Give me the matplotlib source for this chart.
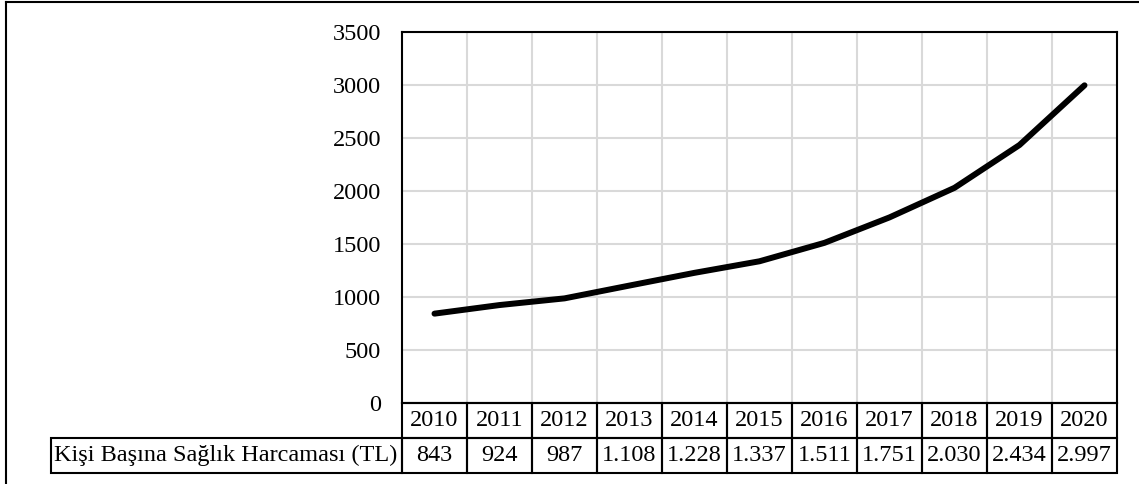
import matplotlib.pyplot as plt
from matplotlib.lines import Line2D
from matplotlib.patches import Rectangle

years = [2010, 2011, 2012, 2013, 2014, 2015, 2016, 2017, 2018, 2019, 2020]
spending = [843, 924, 987, 1108, 1228, 1337, 1511, 1751, 2030, 2434, 2997]
row_label = 'Kişi Başına Sağlık Harcaması (TL)'
y_ticks = [0, 500, 1000, 1500, 2000, 2500, 3000, 3500]

plt.rcParams['font.family'] = ['Liberation Serif', 'DejaVu Serif']
FS = 17.5

W, H = 1139, 484
fig = plt.figure(figsize=(W / 100, H / 100), dpi=100)

# plot area in pixels
left, right, top, bottom = 402, 1117, 32, 403
ax = fig.add_axes([left / W, 1 - bottom / H, (right - left) / W, (bottom - top) / H])
x = list(range(len(years)))
ax.plot(x, spending, color='black', linewidth=4.3, solid_capstyle='round', zorder=3)
ax.set_xlim(-0.5, len(years) - 0.5)
ax.set_ylim(0, 3500)
ax.set_yticks(y_ticks)
ax.set_yticklabels([str(v) for v in y_ticks], fontsize=FS)
ax.set_xticks([i + 0.5 for i in x[:-1]])
ax.set_xticklabels([])
ax.tick_params(axis='both', length=0, pad=15)
ax.grid(True, color='#d9d9d9', linewidth=1.5, zorder=0)
for s in ax.spines.values():
    s.set_linewidth(1.5)
    s.set_color('black')

# data table below the plot
row_h = 35
tax = fig.add_axes([left / W, 1 - (bottom + 2 * row_h) / H, (right - left) / W, 2 * row_h / H])
tax.set_xlim(-0.5, len(years) - 0.5)
tax.set_ylim(0, 2)
tax.axis('off')
col_w = (right - left) / len(years)
label_left = -0.5 - (left - 51) / col_w
for i, (yr, v) in enumerate(zip(years, spending)):
    tax.add_patch(Rectangle((i - 0.5, 1), 1, 1, fill=False, edgecolor='black', linewidth=1.5, clip_on=False))
    tax.add_patch(Rectangle((i - 0.5, 0), 1, 1, fill=False, edgecolor='black', linewidth=1.5, clip_on=False))
    tax.text(i, 1.5, str(yr), ha='center', va='center', fontsize=FS)
    tax.text(i, 0.5, f'{v:,}'.replace(',', '.'), ha='center', va='center', fontsize=FS)
tax.add_patch(Rectangle((label_left, 0), -0.5 - label_left, 1, fill=False, edgecolor='black',
                        linewidth=1.5, clip_on=False))
tax.text(label_left + 0.05, 0.5, row_label, ha='left', va='center', fontsize=FS)

# outer chart frame (top and left edges visible)
fig.add_artist(Line2D([6 / W, 1], [1 - 2 / H, 1 - 2 / H], transform=fig.transFigure, color='black', linewidth=1.5))
fig.add_artist(Line2D([6 / W, 6 / W], [0, 1 - 2 / H], transform=fig.transFigure, color='black', linewidth=1.5))

fig.savefig('out.png', dpi=100)
